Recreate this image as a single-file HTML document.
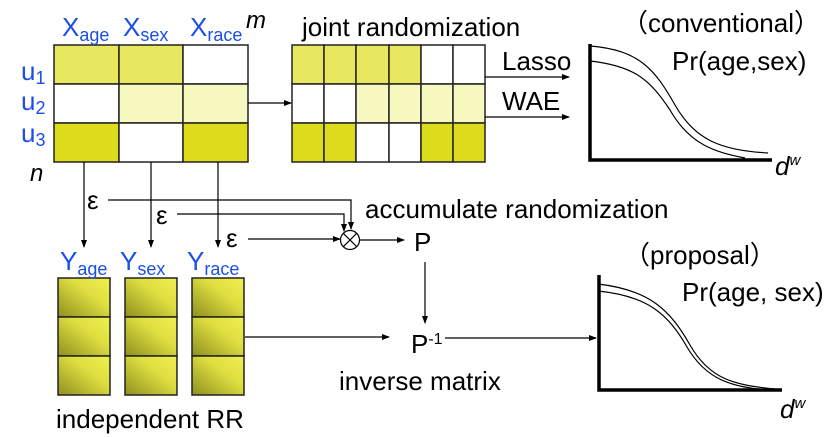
<!DOCTYPE html>
<html><head><meta charset="utf-8"><style>
html,body{margin:0;padding:0;background:#fff;}
svg{display:block;font-family:"Liberation Sans",Arial,sans-serif;}
</style></head><body>
<svg width="830" height="437" viewBox="0 0 830 437" xmlns="http://www.w3.org/2000/svg">
<defs>
<marker id="a" markerWidth="8" markerHeight="8" refX="7" refY="4" orient="auto" markerUnits="userSpaceOnUse"><path d="M0,1 L8,4 L0,7 z" fill="#000"/></marker>
<linearGradient id="g" x1="0" y1="1" x2="1" y2="0"><stop offset="0" stop-color="#8f8f20"/><stop offset="0.6" stop-color="#dede40"/><stop offset="1" stop-color="#f0f050"/></linearGradient>
</defs>
<g stroke="#222" stroke-width="1.5">
<rect x="54" y="45" width="65" height="39" fill="#e8e860"/><rect x="119" y="45" width="64" height="39" fill="#e8e860"/><rect x="183" y="45" width="65" height="39" fill="#fff"/>
<rect x="54" y="84" width="65" height="39" fill="#fff"/><rect x="119" y="84" width="64" height="39" fill="#f7f7c0"/><rect x="183" y="84" width="65" height="39" fill="#f7f7c0"/>
<rect x="54" y="123" width="65" height="39" fill="#dcdc1c"/><rect x="119" y="123" width="64" height="39" fill="#fff"/><rect x="183" y="123" width="65" height="39" fill="#dcdc1c"/>
<rect x="292" y="45" width="32" height="39" fill="#e8e860"/><rect x="324" y="45" width="32" height="39" fill="#e8e860"/><rect x="356" y="45" width="33" height="39" fill="#e8e860"/><rect x="389" y="45" width="32" height="39" fill="#e8e860"/><rect x="421" y="45" width="32" height="39" fill="#fff"/><rect x="453" y="45" width="32" height="39" fill="#fff"/>
<rect x="292" y="84" width="32" height="39" fill="#fff"/><rect x="324" y="84" width="32" height="39" fill="#fff"/><rect x="356" y="84" width="33" height="39" fill="#f7f7c0"/><rect x="389" y="84" width="32" height="39" fill="#f7f7c0"/><rect x="421" y="84" width="32" height="39" fill="#f7f7c0"/><rect x="453" y="84" width="32" height="39" fill="#f7f7c0"/>
<rect x="292" y="123" width="32" height="39" fill="#dcdc1c"/><rect x="324" y="123" width="32" height="39" fill="#dcdc1c"/><rect x="356" y="123" width="33" height="39" fill="#fff"/><rect x="389" y="123" width="32" height="39" fill="#fff"/><rect x="421" y="123" width="32" height="39" fill="#dcdc1c"/><rect x="453" y="123" width="32" height="39" fill="#dcdc1c"/>
<rect x="58" y="278" width="52" height="39" fill="url(#g)"/><rect x="58" y="317" width="52" height="39" fill="url(#g)"/><rect x="58" y="356" width="52" height="39" fill="url(#g)"/>
<rect x="125" y="278" width="52" height="39" fill="url(#g)"/><rect x="125" y="317" width="52" height="39" fill="url(#g)"/><rect x="125" y="356" width="52" height="39" fill="url(#g)"/>
<rect x="192" y="278" width="52" height="39" fill="url(#g)"/><rect x="192" y="317" width="52" height="39" fill="url(#g)"/><rect x="192" y="356" width="52" height="39" fill="url(#g)"/>
</g>
<g stroke="#000" stroke-width="1.2" fill="none">
<line x1="248" y1="103" x2="291" y2="103" marker-end="url(#a)"/>
<line x1="485" y1="77" x2="569" y2="77" marker-end="url(#a)"/>
<line x1="485" y1="117" x2="569" y2="117" marker-end="url(#a)"/>
<line x1="84" y1="162" x2="84" y2="247" marker-end="url(#a)"/>
<line x1="151" y1="162" x2="151" y2="247" marker-end="url(#a)"/>
<line x1="218" y1="162" x2="218" y2="247" marker-end="url(#a)"/>
<polyline points="108,200 351,200 351,229" marker-end="url(#a)"/>
<polyline points="177,214 344,214 344,231" marker-end="url(#a)"/>
<line x1="248" y1="239" x2="340" y2="239" marker-end="url(#a)"/>
<circle cx="350" cy="240" r="9.5" fill="#fff"/>
<line x1="343.3" y1="233.3" x2="356.7" y2="246.7"/><line x1="356.7" y1="233.3" x2="343.3" y2="246.7"/>
<line x1="360" y1="240" x2="404" y2="240" marker-end="url(#a)"/>
<line x1="425" y1="262" x2="425" y2="323" marker-end="url(#a)"/>
<line x1="245" y1="337" x2="389" y2="337" marker-end="url(#a)"/>
<line x1="445" y1="338" x2="596" y2="338" marker-end="url(#a)"/>
<path d="M590,46 C640,50 655,70 675,105 C695,140 720,150 768,153"/>
<path d="M590,61 C635,66 650,80 670,110 C690,145 715,152 745,158"/>
<path d="M598,284 C650,290 670,310 690,345 C710,380 735,385 775,389"/>
<path d="M598,291 C648,296 668,314 687,347 C707,381 732,386 765,390"/>
</g>
<g stroke="#000" stroke-width="3.5" fill="none">
<polyline points="590,44 590,160 772,160"/>
<polyline points="599,275 599,390 782,390"/>
</g>
<g font-size="26" fill="#1a4fe6">
<text x="62" y="36">X<tspan font-size="18" dy="5">age</tspan></text>
<text x="123" y="36">X<tspan font-size="18" dy="5">sex</tspan></text>
<text x="190" y="36">X<tspan font-size="18" dy="5">race</tspan></text>
<text x="21" y="80">u<tspan font-size="18" dy="4">1</tspan></text>
<text x="21" y="110">u<tspan font-size="18" dy="4">2</tspan></text>
<text x="21" y="142">u<tspan font-size="18" dy="4">3</tspan></text>
<text x="60" y="270">Y<tspan font-size="18" dy="5">age</tspan></text>
<text x="120" y="270">Y<tspan font-size="18" dy="5">sex</tspan></text>
<text x="187" y="270">Y<tspan font-size="18" dy="5">race</tspan></text>
</g>
<g font-size="26" fill="#000">
<text x="246" y="28" font-style="italic" font-size="24">m</text>
<text x="30" y="181" font-style="italic" font-size="24">n</text>
<text x="302" y="36">joint randomization</text>
<text x="502" y="70">Lasso</text>
<text x="502" y="110">WAE</text>
<text x="622" y="32">（conventional）</text>
<text x="672" y="70">Pr(age,sex)</text>
<text x="775" y="175" font-style="italic">d<tspan font-size="15" dy="-10">w</tspan></text>
<text x="365" y="218">accumulate randomization</text>
<text x="87" y="209">ε</text>
<text x="156" y="224">ε</text>
<text x="226" y="247">ε</text>
<text x="414" y="251">P</text>
<text x="411" y="353">P<tspan font-size="16" dy="-9">-1</tspan></text>
<text x="339" y="390">inverse matrix</text>
<text x="56" y="428">independent RR</text>
<text x="624" y="264">（proposal）</text>
<text x="682" y="301">Pr(age, sex)</text>
<text x="780" y="418" font-style="italic">d<tspan font-size="15" dy="-10">w</tspan></text>
</g>
</svg>
</body></html>
